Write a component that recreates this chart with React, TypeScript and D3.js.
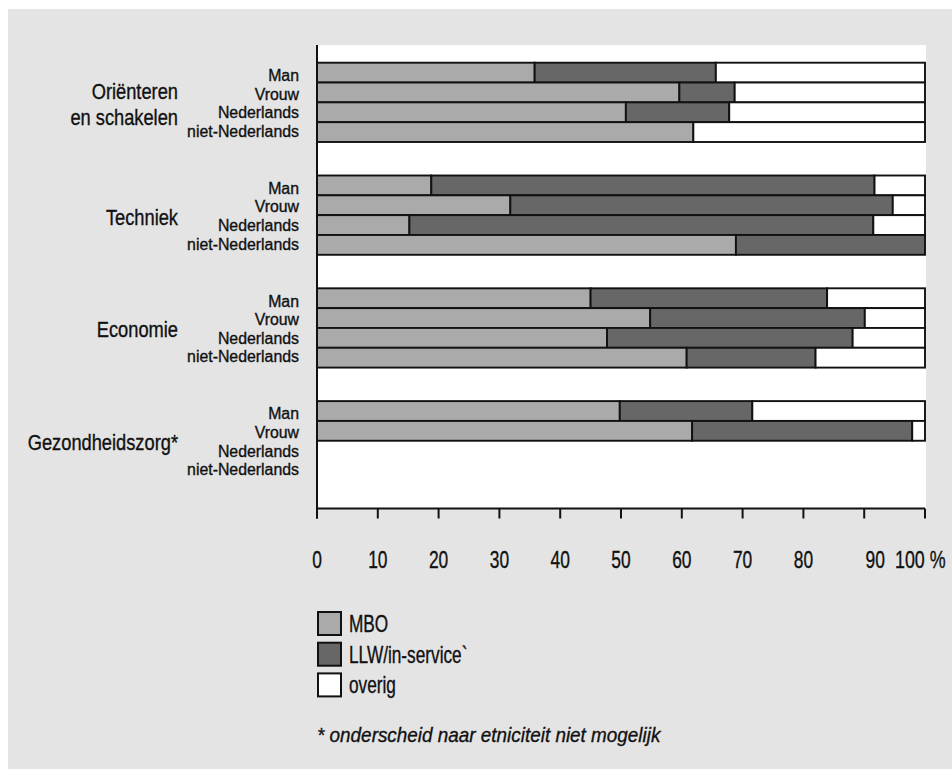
import React from "react";
import * as d3 from "d3";

const groups = ["Oriënteren\nen schakelen", "Techniek", "Economie", "Gezondheidszorg*"];
const subcats = ["Man", "Vrouw", "Nederlands", "niet-Nederlands"];
const seriesNames = ["MBO", "LLW/in-service`", "overig"];
const seriesColors = ["#aaaaaa", "#676767", "#ffffff"];

// MBO share per group (rows: Man, Vrouw, Nederlands, niet-Nederlands); null = no bar
const mbo: (number | null)[][] = [
  [35.8, 59.6, 50.8, 61.9],
  [18.8, 31.8, 15.2, 68.9],
  [45.0, 54.8, 47.7, 60.8],
  [49.8, 61.7, null, null],
];
// LLW/in-service share
const llw: (number | null)[][] = [
  [29.8, 9.1, 17.0, 0],
  [72.9, 62.9, 76.3, 31.1],
  [38.9, 35.3, 40.4, 21.2],
  [21.8, 36.2, null, null],
];
// overig share
const overig: (number | null)[][] = [
  [34.4, 31.3, 32.2, 38.1],
  [8.3, 5.3, 8.5, 0],
  [16.1, 9.9, 11.9, 18.0],
  [28.4, 2.1, null, null],
];
const xTicks = [0, 10, 20, 30, 40, 50, 60, 70, 80, 90, 100];
const footnote = "* onderscheid naar etniciteit niet mogelijk";

const FONT = "'Liberation Sans', Arial, Helvetica, sans-serif";

function T(props: {
  x: number; y: number; size: number; sx?: number; anchor?: string; italic?: boolean; children: React.ReactNode;
}) {
  const { x, y, size, sx = 1, anchor = "start", italic, children } = props;
  return (
    <text
      transform={`translate(${x},${y}) scale(${sx},1)`}
      fontSize={size}
      fontFamily={FONT}
      textAnchor={anchor as any}
      fontStyle={italic ? "italic" : "normal"}
      fill="#111"
      stroke="#111"
      strokeWidth={0.35}
    >
      {children}
    </text>
  );
}

export default function App() {
  const W = 952, H = 769;
  const x = d3.scaleLinear().domain([0, 100]).range([317, 925]);
  const yG = d3.scaleBand<string>().domain(groups).range([62.7, 480.4]).paddingInner(0.297).paddingOuter(0);
  const yR = d3.scaleBand<string>().domain(subcats).range([0, yG.bandwidth()]).padding(0);
  const series = [mbo, llw, overig];

  const plotTop = 45, axisY = 508.5;

  return (
    <svg width={W} height={H} style={{ position: "absolute", left: 0, top: 0 }}>
      <rect x={0} y={0} width={W} height={H} fill="#ffffff" />
      <rect x={8} y={9} width={W - 8} height={H - 9} fill="#e4e4e4" />
      <rect x={x(0)} y={plotTop} width={x(100) - x(0) + 1} height={axisY - plotTop} fill="#ffffff" />

      {/* bars */}
      {groups.map((g, gi) =>
        subcats.map((s, ri) => {
          const y0 = (yG(g) as number) + (yR(s) as number);
          const h = yR.bandwidth();
          let acc = 0;
          return series.map((arr, si) => {
            const v = arr[gi][ri];
            if (v == null || v <= 0) return null;
            const x0 = x(acc);
            acc += v;
            const x1 = x(Math.min(acc, 100));
            return (
              <rect
                key={`${gi}-${ri}-${si}`}
                x={x0}
                y={y0}
                width={x1 - x0}
                height={h}
                fill={seriesColors[si]}
                stroke="#111"
                strokeWidth={1.9}
              />
            );
          });
        })
      )}

      {/* axes */}
      <line x1={x(0)} x2={x(0)} y1={plotTop} y2={axisY + 10} stroke="#111" strokeWidth={2} />
      <line x1={x(0)} x2={x(100)} y1={axisY} y2={axisY} stroke="#111" strokeWidth={2} />
      {xTicks.map((t) => (
        <line key={t} x1={x(t)} x2={x(t)} y1={axisY} y2={axisY + 10} stroke="#111" strokeWidth={2} />
      ))}
      {xTicks.map((t) =>
        t === 100 ? (
          <T key={t} x={x(t) - 30} y={568} size={23.5} sx={0.76}>{`${t} %`}</T>
        ) : (
          <T key={t} x={x(t) + (t === 90 ? 11 : 0)} y={568} size={23.5} sx={0.74} anchor="middle">{String(t)}</T>
        )
      )}

      {/* labels */}
      {groups.map((g, gi) => {
        const c = (yG(g) as number) + yG.bandwidth() / 2;
        const lines = g.split("\n");
        return (
          <g key={g}>
            {lines.map((ln, li) => (
              <T key={li} x={178} y={c + (li - (lines.length - 1) / 2) * 25.6 + 9.5} size={21.5} sx={0.85} anchor="end">{ln}</T>
            ))}
            {subcats.map((s, ri) => (
              <T key={s} x={299} y={c + (ri - 1.5) * 18.6 + 6.5} size={16.2} sx={0.98} anchor="end">{s}</T>
            ))}
          </g>
        );
      })}

      {/* legend */}
      {seriesNames.map((n, i) => {
        const y0 = 612 + i * 30.7;
        return (
          <g key={n}>
            <rect x={318} y={y0} width={23} height={23} fill={seriesColors[i]} stroke="#111" strokeWidth={2} />
            <T x={349} y={y0 + 20} size={23} sx={0.75}>{n}</T>
          </g>
        );
      })}
      <T x={317} y={742} size={21} sx={0.9} italic>{footnote}</T>
    </svg>
  );
}
